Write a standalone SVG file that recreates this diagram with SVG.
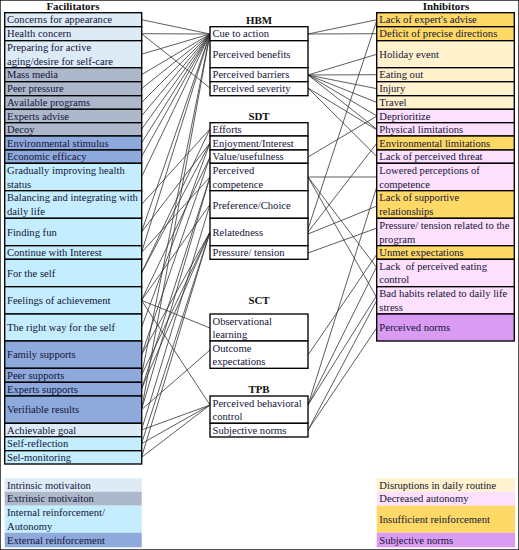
<svg xmlns="http://www.w3.org/2000/svg" width="519" height="550" viewBox="0 0 519 550">
<style>
text{font-family:"Liberation Serif","Times New Roman",serif;font-size:10.6px;fill:#14143a}
.t{font-weight:bold;font-size:10.9px;fill:#111;text-anchor:middle}
rect{stroke:#000;stroke-width:1.35}
.lg rect{stroke:none}
.intr{fill:#DDEBF7}.extr{fill:#ADB9CA}.int{fill:#C4EDFD}.ext{fill:#8EA9DB}
.dis{fill:#FFF2CC}.aut{fill:#FDE0FC}.ins{fill:#FFD966}.sub{fill:#DA9CF2}
.mid{fill:#fff}
#connectors line{stroke:#333;stroke-width:0.8}
</style>
<rect x="0" y="0" width="519" height="550" fill="#fff" stroke="none"/>
<text class="t" x="73" y="9.5">Facilitators</text>
<text class="t" x="446" y="9.5">Inhibitors</text>
<text class="t" x="259" y="24">HBM</text>
<text class="t" x="259" y="120">SDT</text>
<text class="t" x="259" y="304">SCT</text>
<text class="t" x="259" y="393">TPB</text>

<g id="connectors">
<line x1="141.5" y1="19.7" x2="210" y2="34"/>
<line x1="141.5" y1="33.7" x2="210" y2="34"/>
<line x1="141.5" y1="54.2" x2="210" y2="34"/>
<line x1="141.5" y1="74.7" x2="210" y2="34"/>
<line x1="141.5" y1="88.7" x2="210" y2="34"/>
<line x1="141.5" y1="102.5" x2="210" y2="34"/>
<line x1="141.5" y1="116" x2="210" y2="34"/>
<line x1="141.5" y1="129.3" x2="210" y2="34"/>
<line x1="141.5" y1="143" x2="210" y2="34"/>
<line x1="141.5" y1="156.7" x2="210" y2="34"/>
<line x1="141.5" y1="177" x2="210" y2="34"/>
<line x1="141.5" y1="232" x2="210" y2="34"/>
<line x1="141.5" y1="252.5" x2="210" y2="34"/>
<line x1="141.5" y1="375.3" x2="210" y2="34"/>
<line x1="141.5" y1="409.7" x2="210" y2="34"/>
<line x1="141.5" y1="33.7" x2="210" y2="88"/>
<line x1="141.5" y1="204.5" x2="210" y2="129"/>
<line x1="141.5" y1="273" x2="210" y2="129"/>
<line x1="141.5" y1="232" x2="210" y2="143"/>
<line x1="141.5" y1="273" x2="210" y2="143"/>
<line x1="141.5" y1="327.5" x2="210" y2="143"/>
<line x1="141.5" y1="300.3" x2="210" y2="157"/>
<line x1="141.5" y1="354.7" x2="210" y2="157"/>
<line x1="141.5" y1="252.5" x2="210" y2="177"/>
<line x1="141.5" y1="389" x2="210" y2="177"/>
<line x1="141.5" y1="409.7" x2="210" y2="177"/>
<line x1="141.5" y1="300.3" x2="210" y2="204.5"/>
<line x1="141.5" y1="430" x2="210" y2="204.5"/>
<line x1="141.5" y1="354.7" x2="210" y2="232"/>
<line x1="141.5" y1="375.3" x2="210" y2="232"/>
<line x1="141.5" y1="389" x2="210" y2="232"/>
<line x1="141.5" y1="443.7" x2="210" y2="232"/>
<line x1="141.5" y1="457.3" x2="210" y2="232"/>
<line x1="141.5" y1="300.3" x2="210" y2="328"/>
<line x1="141.5" y1="409.7" x2="210" y2="350"/>
<line x1="141.5" y1="300.3" x2="210" y2="405"/>
<line x1="141.5" y1="430" x2="210" y2="405"/>
<line x1="141.5" y1="443.7" x2="210" y2="405"/>
<line x1="141.5" y1="457.3" x2="210" y2="405"/>
<line x1="308" y1="34" x2="377" y2="19.7"/>
<line x1="308" y1="34" x2="377" y2="33.7"/>
<line x1="308" y1="75" x2="377" y2="54.2"/>
<line x1="308" y1="75" x2="377" y2="74.7"/>
<line x1="308" y1="75" x2="377" y2="88.7"/>
<line x1="308" y1="75" x2="377" y2="102.5"/>
<line x1="308" y1="75" x2="377" y2="116"/>
<line x1="308" y1="75" x2="377" y2="129.3"/>
<line x1="308" y1="88" x2="377" y2="130"/>
<line x1="308" y1="88" x2="377" y2="156.7"/>
<line x1="308" y1="157" x2="377" y2="116"/>
<line x1="308" y1="177" x2="377" y2="177"/>
<line x1="308" y1="177" x2="377" y2="268"/>
<line x1="308" y1="177" x2="377" y2="298"/>
<line x1="308" y1="229" x2="377" y2="19.7"/>
<line x1="308" y1="232" x2="377" y2="143"/>
<line x1="308" y1="234" x2="377" y2="206"/>
<line x1="308" y1="253" x2="377" y2="228"/>
<line x1="308" y1="355" x2="377" y2="254"/>
<line x1="308" y1="405" x2="377" y2="186"/>
<line x1="308" y1="405" x2="377" y2="266"/>
<line x1="308" y1="405" x2="377" y2="295"/>
<line x1="308" y1="430" x2="377" y2="300"/>
<line x1="308" y1="430" x2="377" y2="327.5"/>
</g>

<g id="f-concerns"><rect class="intr" x="4.7" y="12.7" width="137" height="14"/><text x="7" y="23.2">Concerns for appearance</text></g>
<g id="f-health"><rect class="intr" x="4.7" y="26.7" width="137" height="14"/><text x="7" y="37.2">Health concern</text></g>
<g id="f-preparing"><rect class="intr" x="4.7" y="40.7" width="137" height="27"/><text x="7" y="51.2">Preparing for active</text><text x="7" y="64.5">aging/desire for self-care</text></g>
<g id="f-massmedia"><rect class="extr" x="4.7" y="67.7" width="137" height="14"/><text x="7" y="78.2">Mass media</text></g>
<g id="f-peerpressure"><rect class="extr" x="4.7" y="81.7" width="137" height="14"/><text x="7" y="92.2">Peer pressure</text></g>
<g id="f-programs"><rect class="extr" x="4.7" y="95.7" width="137" height="13.6"/><text x="7" y="106">Available programs</text></g>
<g id="f-expertsadvise"><rect class="extr" x="4.7" y="109.3" width="137" height="13.4"/><text x="7" y="119.6">Experts advise</text></g>
<g id="f-decoy"><rect class="extr" x="4.7" y="122.7" width="137" height="13.3"/><text x="7" y="133">Decoy</text></g>
<g id="f-envstim"><rect class="ext" x="4.7" y="136" width="137" height="14"/><text x="7" y="146.5">Environmental stimulus</text></g>
<g id="f-econ"><rect class="ext" x="4.7" y="150" width="137" height="13.3"/><text x="7" y="160.3">Economic efficacy</text></g>
<g id="f-gradually"><rect class="int" x="4.7" y="163.3" width="137" height="27.4"/><text x="7" y="174">Gradually improving health</text><text x="7" y="187.5">status</text></g>
<g id="f-balancing"><rect class="int" x="4.7" y="190.7" width="137" height="27.6"/><text x="7" y="201.3">Balancing and integrating with</text><text x="7" y="215">daily life</text></g>
<g id="f-fun"><rect class="int" x="4.7" y="218.3" width="137" height="27.4"/><text x="7" y="236">Finding fun</text></g>
<g id="f-continue"><rect class="int" x="4.7" y="245.7" width="137" height="13.6"/><text x="7" y="256">Continue with Interest</text></g>
<g id="f-forself"><rect class="int" x="4.7" y="259.3" width="137" height="27.4"/><text x="7" y="276.8">For the self</text></g>
<g id="f-feelings"><rect class="int" x="4.7" y="286.7" width="137" height="27.3"/><text x="7" y="304.1">Feelings of achievement</text></g>
<g id="f-rightway"><rect class="int" x="4.7" y="314" width="137" height="27"/><text x="7" y="331.3">The right way for the self</text></g>
<g id="f-family"><rect class="ext" x="4.7" y="341" width="137" height="27.3"/><text x="7" y="358.4">Family supports</text></g>
<g id="f-peersupports"><rect class="ext" x="4.7" y="368.3" width="137" height="14"/><text x="7" y="378.8">Peer supports</text></g>
<g id="f-expertssupports"><rect class="ext" x="4.7" y="382.3" width="137" height="13.7"/><text x="7" y="392.7">Experts supports</text></g>
<g id="f-verifiable"><rect class="ext" x="4.7" y="396" width="137" height="27.3"/><text x="7" y="413.4">Verifiable results</text></g>
<g id="f-achievable"><rect class="intr" x="4.7" y="423.3" width="137" height="13.4"/><text x="7" y="433.6">Achievable goal</text></g>
<g id="f-selfreflection"><rect class="int" x="4.7" y="436.7" width="137" height="14"/><text x="7" y="447.2">Self-reflection</text></g>
<g id="f-selmonitoring"><rect class="int" x="4.7" y="450.7" width="137" height="13.3"/><text x="7" y="461">Sel-monitoring</text></g>

<g id="m-cue"><rect class="mid" x="210" y="26.7" width="98" height="14"/><text x="212.5" y="37.2">Cue to action</text></g>
<g id="m-benefits"><rect class="mid" x="210" y="40.7" width="98" height="27"/><text x="212.5" y="58">Perceived benefits</text></g>
<g id="m-barriers"><rect class="mid" x="210" y="67.7" width="98" height="14"/><text x="212.5" y="78.2">Perceived barriers</text></g>
<g id="m-severity"><rect class="mid" x="210" y="81.7" width="98" height="14"/><text x="212.5" y="92.2">Perceived severity</text></g>
<g id="m-efforts"><rect class="mid" x="210" y="122.7" width="98" height="13.3"/><text x="212.5" y="133">Efforts</text></g>
<g id="m-enjoyment"><rect class="mid" x="210" y="136" width="98" height="14"/><text x="212.5" y="146.5">Enjoyment/Interest</text></g>
<g id="m-value"><rect class="mid" x="210" y="150" width="98" height="13.3"/><text x="212.5" y="160.3">Value/usefulness</text></g>
<g id="m-competence"><rect class="mid" x="210" y="163.3" width="98" height="27.4"/><text x="212.5" y="174">Perceived</text><text x="212.5" y="187.5">competence</text></g>
<g id="m-preference"><rect class="mid" x="210" y="190.7" width="98" height="27.6"/><text x="212.5" y="208.5">Preference/Choice</text></g>
<g id="m-relatedness"><rect class="mid" x="210" y="218.3" width="98" height="27.4"/><text x="212.5" y="236">Relatedness</text></g>
<g id="m-pressure"><rect class="mid" x="210" y="245.7" width="98" height="13.6"/><text x="212.5" y="256">Pressure/ tension</text></g>
<g id="m-observational"><rect class="mid" x="210" y="314" width="98" height="27"/><text x="212.5" y="324.6">Observational</text><text x="212.5" y="338">learning</text></g>
<g id="m-outcome"><rect class="mid" x="210" y="341" width="98" height="27.3"/><text x="212.5" y="351.6">Outcome</text><text x="212.5" y="365">expectations</text></g>
<g id="m-pbc"><rect class="mid" x="210" y="396" width="98" height="27.3"/><text x="212.5" y="406.6">Perceived behavioral</text><text x="212.5" y="420">control</text></g>
<g id="m-subjnorms"><rect class="mid" x="210" y="423.3" width="98" height="13.7"/><text x="212.5" y="433.7">Subjective norms</text></g>

<g id="i-expert"><rect class="ins" x="376.7" y="12.7" width="137.6" height="14"/><text x="379.3" y="23.2">Lack of expert's advise</text></g>
<g id="i-deficit"><rect class="ins" x="376.7" y="26.7" width="137.6" height="14"/><text x="379.3" y="37.2">Deficit of precise directions</text></g>
<g id="i-holiday"><rect class="dis" x="376.7" y="40.7" width="137.6" height="27"/><text x="379.3" y="58">Holiday event</text></g>
<g id="i-eating"><rect class="dis" x="376.7" y="67.7" width="137.6" height="14"/><text x="379.3" y="78.2">Eating out</text></g>
<g id="i-injury"><rect class="dis" x="376.7" y="81.7" width="137.6" height="14"/><text x="379.3" y="92.2">Injury</text></g>
<g id="i-travel"><rect class="dis" x="376.7" y="95.7" width="137.6" height="13.6"/><text x="379.3" y="106">Travel</text></g>
<g id="i-deprioritize"><rect class="aut" x="376.7" y="109.3" width="137.6" height="13.4"/><text x="379.3" y="119.6">Deprioritize</text></g>
<g id="i-physical"><rect class="aut" x="376.7" y="122.7" width="137.6" height="13.3"/><text x="379.3" y="133">Physical limitations</text></g>
<g id="i-environmental"><rect class="ins" x="376.7" y="136" width="137.6" height="14"/><text x="379.3" y="146.5">Environmental limitations</text></g>
<g id="i-threat"><rect class="aut" x="376.7" y="150" width="137.6" height="13.3"/><text x="379.3" y="160.3">Lack of perceived threat</text></g>
<g id="i-lowered"><rect class="aut" x="376.7" y="163.3" width="137.6" height="27.4"/><text x="379.3" y="174">Lowered perceptions of</text><text x="379.3" y="187.5">competence</text></g>
<g id="i-supportive"><rect class="ins" x="376.7" y="190.7" width="137.6" height="27.6"/><text x="379.3" y="201.3">Lack of supportive</text><text x="379.3" y="215">relationships</text></g>
<g id="i-pressure"><rect class="aut" x="376.7" y="218.3" width="137.6" height="27.4"/><text x="379.3" y="229">Pressure/ tension related to the</text><text x="379.3" y="242.5">program</text></g>
<g id="i-unmet"><rect class="ins" x="376.7" y="245.7" width="137.6" height="13.6"/><text x="379.3" y="256">Unmet expectations</text></g>
<g id="i-eatingcontrol"><rect class="aut" x="376.7" y="259.3" width="137.6" height="27.4"/><text x="379.3" y="270">Lack&#160; of perceived eating</text><text x="379.3" y="283.4">control</text></g>
<g id="i-badhabits"><rect class="aut" x="376.7" y="286.7" width="137.6" height="27.3"/><text x="379.3" y="297.3">Bad habits related to daily life</text><text x="379.3" y="310.7">stress</text></g>
<g id="i-norms"><rect class="sub" x="376.7" y="314" width="137.6" height="27"/><text x="379.3" y="331.3">Perceived norms</text></g>

<g id="legend-left" class="lg">
<rect class="intr" x="4.7" y="478.3" width="137" height="13.4"/><text x="7" y="488.6">Intrinsic motivaiton</text>
<rect class="extr" x="4.7" y="491.7" width="137" height="14"/><text x="7" y="502.2">Extrinsic motivaiton</text>
<rect class="int" x="4.7" y="505.7" width="137" height="27"/><text x="7" y="516.3">Internal reinforcement/</text><text x="7" y="529.7">Autonomy</text>
<rect class="ext" x="4.7" y="532.7" width="137" height="14.6"/><text x="7" y="543.5">External reinforcement</text>
</g>
<g id="legend-right" class="lg">
<rect class="dis" x="376.7" y="478.3" width="138.3" height="13.4"/><text x="379.3" y="488.6">Disruptions in daily routine</text>
<rect class="aut" x="376.7" y="491.7" width="138.3" height="14"/><text x="379.3" y="502.2">Decreased autonomy</text>
<rect class="ins" x="376.7" y="505.7" width="138.3" height="27"/><text x="379.3" y="523">Insufficient reinforcement</text>
<rect class="sub" x="376.7" y="532.7" width="138.3" height="14.6"/><text x="379.3" y="543.5">Subjective norms</text>
</g>
</svg>
